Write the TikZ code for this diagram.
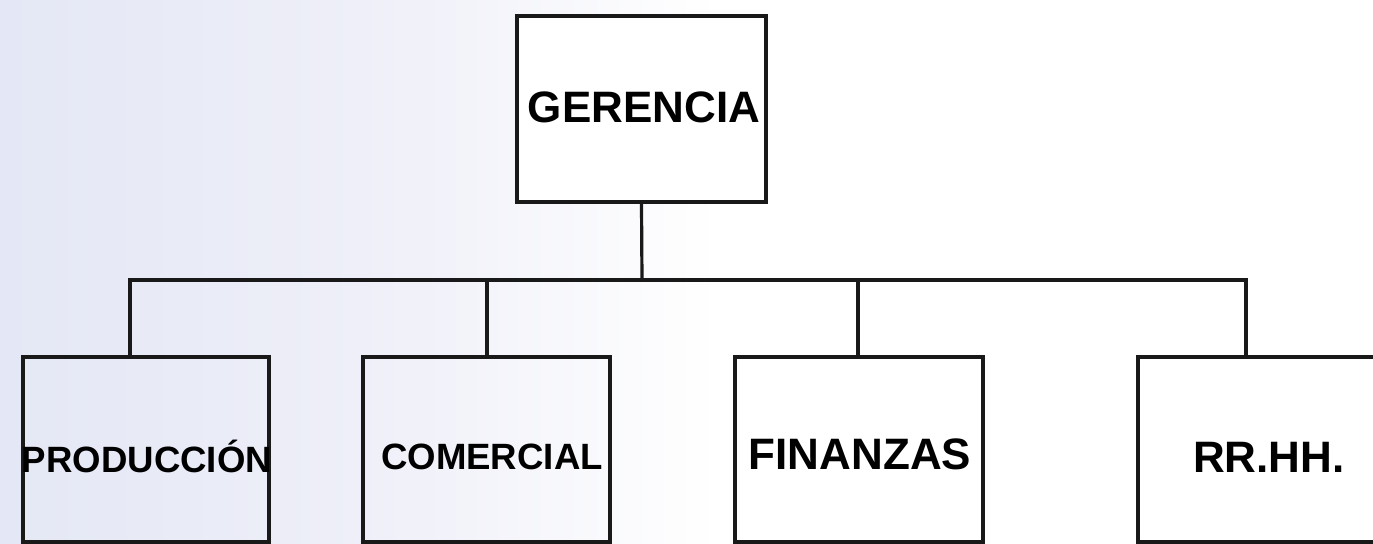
\documentclass[tikz,border=0pt]{standalone}
\usepackage{fontspec}
\setmainfont{Liberation Sans}
\usetikzlibrary{calc}
\definecolor{bgleft}{RGB}{228,231,245}
\definecolor{bgmid}{RGB}{238,239,248}
\begin{document}
\begin{tikzpicture}[x=0.5pt,y=-0.5pt,
  orgbox/.style={draw=black!90,line width=1.6pt,rectangle,inner sep=0pt},
  conn/.style={draw=black!90,line width=1.6pt},
  bigtxt/.style={font=\bfseries\fontsize{22}{26}\selectfont,anchor=base,inner sep=0pt},
  smalltxt/.style={font=\bfseries\fontsize{18.3}{22}\selectfont,anchor=base,inner sep=0pt}]
\useasboundingbox (0,0) rectangle (1373,544);
\fill[white] (0,0) rectangle (1373,544);
\shade[left color=bgleft,right color=white,middle color=bgmid] (0,0) rectangle (720,544);
% boxes
\node[orgbox,fill=white,minimum width=124.5pt,minimum height=93pt] (ger) at (641.5,109) {};
\node[orgbox,minimum width=123pt,minimum height=92.5pt] (prod) at (146,449.5) {};
\node[orgbox,minimum width=123.5pt,minimum height=92.5pt] (com) at (486.5,449.5) {};
\node[orgbox,minimum width=124pt,minimum height=92.5pt] (fin) at (859,449.5) {};
\node[orgbox,minimum width=124pt,minimum height=92.5pt] (rr) at (1262,449.5) {};
% texts
\node[bigtxt] (gert) at (644,123) {GERENCIA};
\node[smalltxt] (prodt) at (147,473) {PRODUCCIÓN};
\node[smalltxt] (comt) at (492,470) {COMERCIAL};
\node[bigtxt] (fint) at (860,470) {FINANZAS};
\node[bigtxt] (rrt) at (1269,473) {RR.HH.};
% connectors
\coordinate (bus) at (642,280);
\coordinate (bl) at (130,280);
\coordinate (bc) at (487,280);
\coordinate (bf) at (858,280);
\coordinate (br) at (1246,280);
\draw[conn] (ger.south) -- (bus);
\draw[conn,line cap=rect] (bl) -- (br);
\draw[conn] (bl) -- (bl |- prod.north);
\draw[conn] (bc) -- (bc |- com.north);
\draw[conn] (bf) -- (bf |- fin.north);
\draw[conn] (br) -- (br |- rr.north);
\end{tikzpicture}
\end{document}
